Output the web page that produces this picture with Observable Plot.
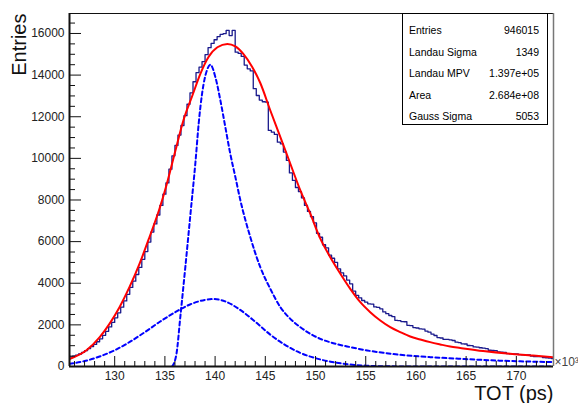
<!DOCTYPE html>
<html><head><meta charset="utf-8">
<script src="https://cdn.jsdelivr.net/npm/d3@7"></script>
<script src="https://cdn.jsdelivr.net/npm/@observablehq/plot@0.6"></script>
<style>
body{margin:0;background:#fff;}
#wrap{position:relative;width:578px;height:403px;overflow:hidden;}
#stats{position:absolute;left:402px;top:13px;width:146px;height:112px;border:1px solid #000;box-sizing:border-box;background:#fff;font:10.5px "Liberation Sans",Arial,sans-serif;color:#000;}
.row{position:absolute;left:6px;right:8px;height:14px;line-height:14px;display:flex;justify-content:space-between;white-space:nowrap;}
</style></head>
<body><div id="wrap"></div>
<script>
// ---- data ----
const xDomain = [125.5, 173.7];
const yDomain = [0, 16960];
const xMajorTicks = [130, 135, 140, 145, 150, 155, 160, 165, 170];
const yMajorTicks = [0, 2000, 4000, 6000, 8000, 10000, 12000, 14000, 16000];
const binLow = 125.5;
const binWidth = 0.3;
const histCounts = [
  460,500,540,600,680,760,860,960,1060,1190,
  1330,1500,1690,1900,2120,2340,2580,2850,3150,3470,
  3800,4100,4420,4760,5150,5520,5980,6460,6850,7280,
  7740,8280,8820,9480,10120,10620,11120,11580,12050,12600,
  13150,13680,14120,14380,14650,14980,15320,15520,15700,15850,
  15960,15990,16150,15900,16150,15100,15040,14900,14480,14300,
  14200,13350,13020,12800,12720,12700,11340,11260,11150,10780,
  10700,10300,9900,9300,8940,8600,8400,8100,7740,7450,
  7200,6900,6400,6210,5850,5700,5350,5200,5000,4690,
  4500,4350,4150,3970,3620,3420,3300,3170,3090,3010,
  3000,2860,2840,2770,2620,2540,2450,2400,2220,2200,
  2160,2150,1980,1960,1870,1850,1810,1800,1700,1650,
  1560,1490,1390,1370,1300,1300,1280,1250,1170,1150,
  1090,1080,1010,1000,940,930,900,880,860,780,
  770,760,700,690,680,620,610,610,600,570,
  560,550,560,500,480,470,470,430,420,400,
  380
];
const fitX = [125.5,127.19,128.49,129.48,130.48,131.47,132.47,133.46,134.46,135.15,136.05,136.84,137.74,138.53,139.33,140.23,141.22,142.02,142.81,143.71,144.5,145.5,146.5,147.49,148.49,149.48,150.48,151.47,152.27,153.46,154.46,155.45,156.45,157.44,158.44,159.43,160.43,161.42,162.42,163.41,164.41,166.69,169.38,171.67,173.7];
const fitY = [360,780,1400,2050,2850,3810,4930,6210,7580,8700,10380,11820,13020,14060,14860,15340,15500,15380,15020,14380,13620,12300,11020,9740,8460,7340,6140,5250,4610,3730,3090,2610,2210,1890,1650,1440,1300,1170,1060,960,890,740,610,530,440];
const landauX = [135.72,136.15,136.54,137.04,137.54,138.04,138.37,138.7,139.2,139.53,140.03,140.52,141.02,141.52,142.02,142.51,143.51,144.5,145.5,146.5,147.49,148.49,149.48,150.48,151.77,153.46,155.15,156.74,158.44,161.42,164.41,168.39,173.7];
const landauY = [0,600,2400,4800,7300,9800,11700,13100,14250,14500,13900,12800,11500,10200,9100,8000,6210,4770,3730,2850,2290,1890,1570,1330,1120,930,770,660,560,450,370,280,210];
const gaussX = [125.5,127,128.5,130,131.5,133,134.5,136,137.5,139,139.8,141,142.5,144,145.5,147,148.5,150,151.5,153,155,157,160,173.7];
const gaussY = [130,260,480,780,1180,1650,2150,2600,2980,3200,3240,3130,2720,2150,1530,1030,650,400,230,120,40,10,0,0];
const statsLabels = ["Entries", "Landau Sigma", "Landau MPV", "Area", "Gauss Sigma"];
const statsValues = ["946015", "1349", "1.397e+05", "2.684e+08", "5053"];

// ---- build ----
const hist = histCounts.map((c, i) => ({x: binLow + i * binWidth, y: c}));
hist.push({x: binLow + histCounts.length * binWidth, y: histCounts[histCounts.length - 1]});
const fit = fitX.map((x, i) => ({x, y: fitY[i]}));
const landau = landauX.map((x, i) => ({x, y: landauY[i]}));
const gauss = gaussX.map((x, i) => ({x, y: gaussY[i]}));
const xMinor = d3.range(126, 174, 1).filter(v => !xMajorTicks.includes(v));
const yMinor = d3.range(0, 17000, 500).filter(v => !yMajorTicks.includes(v));
const empty = () => "";

const chart = Plot.plot({
  width: 578, height: 403,
  marginLeft: 69, marginRight: 25, marginTop: 13, marginBottom: 37,
  style: {fontFamily: "'Liberation Sans', Arial, sans-serif", fontSize: "12px", background: "#fff", overflow: "visible"},
  x: {domain: xDomain, label: null},
  y: {domain: yDomain, label: null},
  marks: [
    Plot.line(gauss, {x: "x", y: "y", stroke: "#0000ff", strokeWidth: 2, strokeDasharray: "4,3", curve: "monotone-x", clip: true}),
    Plot.line(landau, {x: "x", y: "y", stroke: "#0000ff", strokeWidth: 2, strokeDasharray: "4,3", curve: "monotone-x", clip: true}),
    Plot.line(hist, {x: "x", y: "y", stroke: "#1a1a8c", strokeWidth: 1.3, curve: "step-after", clip: true}),
    Plot.line(fit, {x: "x", y: "y", stroke: "#ff0000", strokeWidth: 2, curve: "monotone-x", clip: true}),
    Plot.ruleY([yDomain[1]], {stroke: "#111", strokeWidth: 1.2}),
    Plot.ruleX([xDomain[1]], {stroke: "#777", strokeWidth: 1.5}),
    Plot.ruleY([yDomain[0]], {stroke: "#111", strokeWidth: 2}),
    Plot.ruleX([xDomain[0]], {stroke: "#111", strokeWidth: 2}),
    Plot.axisX(xMajorTicks, {anchor: "bottom", tickSize: -10, tickFormat: empty, label: null, stroke: "#111"}),
    Plot.axisX(xMinor, {anchor: "bottom", tickSize: -5, tickFormat: empty, label: null, stroke: "#111"}),
    Plot.axisX(xMajorTicks, {anchor: "bottom", tickSize: 0, tickPadding: 5, label: null, fontSize: 12, fill: "#222"}),
    Plot.axisY(yMajorTicks, {anchor: "left", tickSize: -12, tickFormat: empty, label: null, stroke: "#111"}),
    Plot.axisY(yMinor, {anchor: "left", tickSize: -6, tickFormat: empty, label: null, stroke: "#111"}),
    Plot.axisY(yMajorTicks, {anchor: "left", tickSize: 0, tickPadding: 5, label: null, fontSize: 12, fill: "#222", tickFormat: d3.format("d")}),
    Plot.text(["Entries"], {frameAnchor: "top-left", dx: -50, rotate: -90, textAnchor: "end", lineAnchor: "middle", fontSize: 20, fill: "#111"}),
    Plot.text(["TOT (ps)"], {frameAnchor: "bottom-right", dy: 33, textAnchor: "end", lineAnchor: "bottom", fontSize: 20, fill: "#111"}),
    Plot.text(["\u00d710\u00b3"], {frameAnchor: "bottom-right", dx: 1, dy: -1, textAnchor: "start", lineAnchor: "bottom", fontSize: 12, fill: "#444"})
  ]
});
const wrap = document.getElementById("wrap");
wrap.appendChild(chart);
const stats = document.createElement("div");
stats.id = "stats";
statsLabels.forEach((lab, i) => {
  const row = document.createElement("div");
  row.className = "row";
  row.style.top = (9 + i * 21.5) + "px";
  const a = document.createElement("span"); a.textContent = lab;
  const b = document.createElement("span"); b.textContent = statsValues[i];
  row.appendChild(a); row.appendChild(b);
  stats.appendChild(row);
});
wrap.appendChild(stats);
</script>
</body></html>
